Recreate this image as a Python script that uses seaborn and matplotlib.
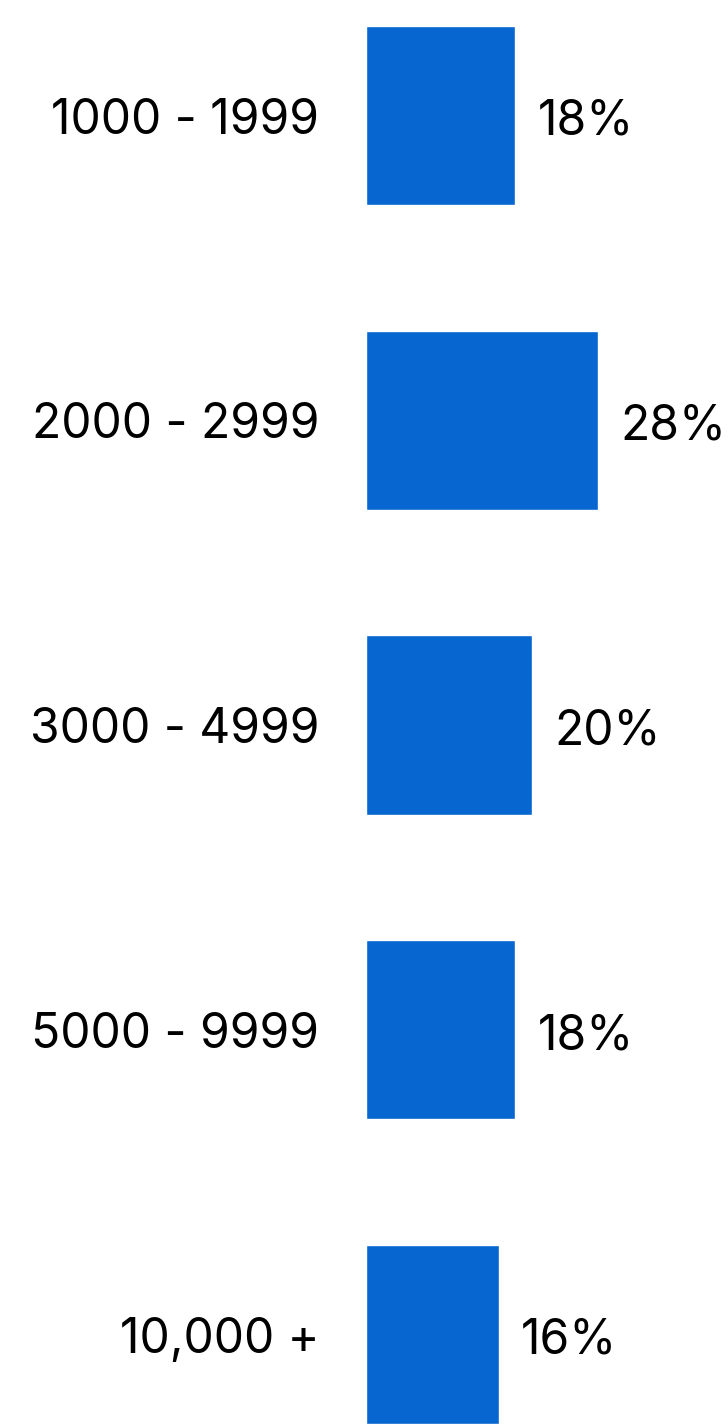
import pandas as pd
import seaborn as sns
import matplotlib.pyplot as plt

categories = ['1000 - 1999', '2000 - 2999', '3000 - 4999', '5000 - 9999', '10,000 +']
values = [18, 28, 20, 18, 16]
value_labels = ['18%', '28%', '20%', '18%', '16%']

df = pd.DataFrame({'range': categories, 'pct': values})

sns.set_style('white')
plt.rcParams['font.family'] = ['Inter', 'DejaVu Sans']

fig = plt.figure(figsize=(7.28, 14.24), dpi=100)
ax = fig.add_axes([366 / 728, 0, 362 / 728, 1])

sns.barplot(data=df, x='pct', y='range', orient='h', color='#0866D1',
            width=0.588, saturation=1, ax=ax)

ax.set_xlim(0, 362 / 8.3)
ax.set_ylim((1424 - 115.5) / 304.75, -115.5 / 304.75)

# percentage labels right of the bars, nudged down a little
anns = ax.bar_label(ax.containers[0], labels=value_labels, padding=16,
                    fontsize=34.5, color='black')
for a in anns:
    a.xyann = (16, -4.5)

ax.set_xticks([])
ax.set_xlabel('')
ax.set_ylabel('')
ax.tick_params(axis='y', length=0, pad=33.5, labelsize=34.5, labelcolor='black')
sns.despine(ax=ax, left=True, bottom=True)

fig.savefig('out.png', dpi=100)
